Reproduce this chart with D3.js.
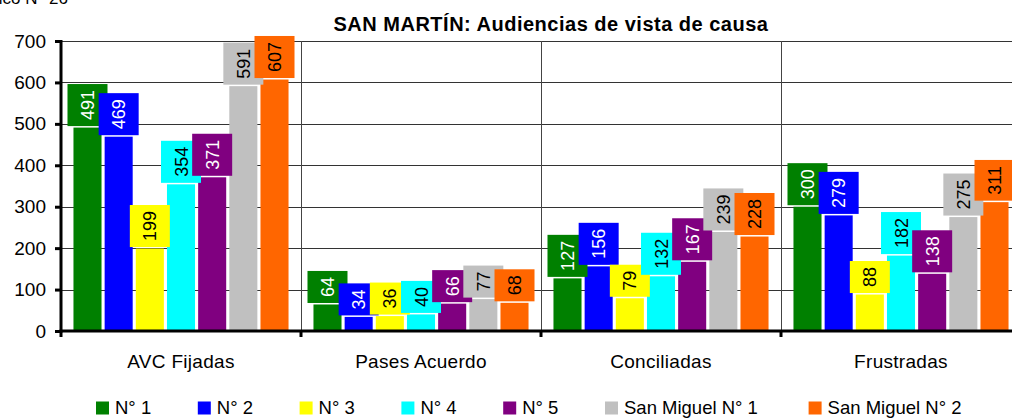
<!DOCTYPE html>
<html>
<head>
<meta charset="utf-8">
<script src="https://cdn.jsdelivr.net/npm/d3@7"></script>
<style>
    body { margin: 0; background: #fff; }
    svg { display: block; font-family: "Liberation Sans", Arial, sans-serif; }
</style>
</head>
<body>
<div id="chart"></div>
<script>
// categories and series of the chart
const categories = ["AVC Fijadas", "Pases Acuerdo", "Conciliadas", "Frustradas"];
const seriesNames = ["N° 1", "N° 2", "N° 3", "N° 4", "N° 5", "San Miguel N° 1", "San Miguel N° 2"];
const seriesColors = ["#008000", "#0000ff", "#ffff00", "#00ffff", "#800080", "#c0c0c0", "#ff6600"];
const labelColors = ["#fff", "#fff", "#000", "#000", "#fff", "#000", "#000"];
// values per series, in category order
const n1 = [491, 64, 127, 300];
const n2 = [469, 34, 156, 279];
const n3 = [199, 36, 79, 88];
const n4 = [354, 40, 132, 182];
const n5 = [371, 66, 167, 138];
const sm1 = [591, 77, 239, 275];
const sm2 = [607, 68, 228, 311];
const seriesValues = [n1, n2, n3, n4, n5, sm1, sm2];
const yTicks = [0, 100, 200, 300, 400, 500, 600, 700];

const width = 1012, height = 418;
const margin = {top: 41, left: 61, bottom: 87};
const plotRight = 1021;
const plotBottom = height - margin.bottom;

const svg = d3.select("#chart").append("svg")
    .attr("width", width)
    .attr("height", height);

// set the ranges
let x0 = d3.scaleBand().domain(categories).range([margin.left, plotRight]).padding(0);
let x1 = d3.scaleBand().domain(seriesNames).range([0, x0.bandwidth()])
    .paddingInner(0.1).paddingOuter(0.4);
let y = d3.scaleLinear().domain([0, 700]).range([plotBottom, margin.top]);

// cut-off caption at the top left
svg.append("text")
    .attr("x", 68).attr("y", 4)
    .attr("text-anchor", "end")
    .style("font-size", "17px")
    .text("Gráfico N° 26");

// title
svg.append("text")
    .attr("x", 551).attr("y", 31)
    .attr("text-anchor", "middle")
    .style("font-size", "20px")
    .style("letter-spacing", "0.5px")
    .style("font-weight", "bold")
    .text("SAN MARTÍN: Audiencias de vista de causa");

// horizontal grid lines
svg.append("g").selectAll("line")
    .data(yTicks.filter(d => d > 0))
    .enter().append("line")
    .attr("x1", margin.left).attr("x2", width)
    .attr("y1", d => Math.round(y(d)) + 0.5)
    .attr("y2", d => Math.round(y(d)) + 0.5)
    .attr("stroke", "#333")
    .attr("stroke-width", 1);

// vertical separators between categories
svg.append("g").selectAll("line")
    .data(categories.slice(1))
    .enter().append("line")
    .attr("x1", d => Math.round(x0(d)) + 0.5)
    .attr("x2", d => Math.round(x0(d)) + 0.5)
    .attr("y1", margin.top).attr("y2", plotBottom)
    .attr("stroke", "#444")
    .attr("stroke-width", 1);

// flatten values
let data = [];
seriesValues.forEach((vals, s) => {
    vals.forEach((v, c) => {
        data.push({series: s, category: categories[c], value: v});
    });
});

// bars
svg.append("g").selectAll("rect")
    .data(data)
    .enter().append("rect")
    .attr("x", d => x0(d.category) + x1(seriesNames[d.series]))
    .attr("width", x1.bandwidth())
    .attr("y", d => y(d.value))
    .attr("height", d => plotBottom - y(d.value))
    .style("fill", d => seriesColors[d.series]);

// value labels in coloured boxes, drawn after all bars
let labels = svg.append("g");
data.forEach(d => {
    let cx = x0(d.category) + x1(seriesNames[d.series]) + x1.bandwidth() / 2;
    let bottom = y(d.value) - 1.5;
    let g = labels.append("g");
    let box = g.append("rect").style("fill", seriesColors[d.series]);
    let t = g.append("text")
        .attr("transform", "translate(" + (cx + 6.5) + "," + 0 + ") rotate(-90)")
        .attr("text-anchor", "middle")
        .style("font-size", "18px")
        .style("fill", labelColors[d.series])
        .text(d.value);
    let len = t.node().getComputedTextLength();
    let h = len + 12;
    let mid = bottom - h / 2;
    t.attr("transform", "translate(" + (cx + 6.5) + "," + mid + ") rotate(-90)");
    box.attr("x", cx - 20).attr("width", 40)
        .attr("y", bottom - h).attr("height", h);
});

// y axis
let yAxis = svg.append("g")
    .attr("transform", "translate(" + margin.left + ",0)")
    .call(d3.axisLeft(y).tickValues(yTicks).tickSize(6).tickPadding(9));
yAxis.select(".domain").attr("stroke", "#000").attr("stroke-width", 3)
    .attr("d", "M0," + (margin.top - 1) + "V" + (plotBottom + 1.5));
yAxis.selectAll(".tick line").attr("stroke", "#000").attr("stroke-width", 3);
yAxis.selectAll("text").style("font-size", "19px").style("fill", "#000");

// x axis
let xAxis = svg.append("g")
    .attr("transform", "translate(0," + plotBottom + ")");
xAxis.append("line")
    .attr("x1", margin.left - 1.5).attr("x2", width)
    .attr("y1", 0).attr("y2", 0)
    .attr("stroke", "#000").attr("stroke-width", 3);
xAxis.selectAll(".xtick")
    .data(categories.concat([null]))
    .enter().append("line")
    .attr("class", "xtick")
    .attr("x1", (d, i) => i < categories.length ? x0(d) : plotRight)
    .attr("x2", (d, i) => i < categories.length ? x0(d) : plotRight)
    .attr("y1", 0).attr("y2", 6)
    .attr("stroke", "#000").attr("stroke-width", 3);
xAxis.selectAll(".xlabel")
    .data(categories)
    .enter().append("text")
    .attr("class", "xlabel")
    .attr("x", d => x0(d) + x0.bandwidth() / 2)
    .attr("y", 37)
    .attr("text-anchor", "middle")
    .style("font-size", "19px")
    .style("letter-spacing", "0.3px")
    .text(d => d);

// legend
const slots = [1, 1, 1, 1, 1, 2, 2];
let lx = 96;
let legend = svg.append("g");
seriesNames.forEach((name, i) => {
    legend.append("rect")
        .attr("x", lx).attr("y", 401.5)
        .attr("width", 13).attr("height", 13)
        .style("fill", seriesColors[i]);
    legend.append("text")
        .attr("x", lx + 19).attr("y", 414)
        .style("font-size", "18.5px")
        .text(name);
    lx += slots[i] * 101.8;
});
</script>
</body>
</html>
